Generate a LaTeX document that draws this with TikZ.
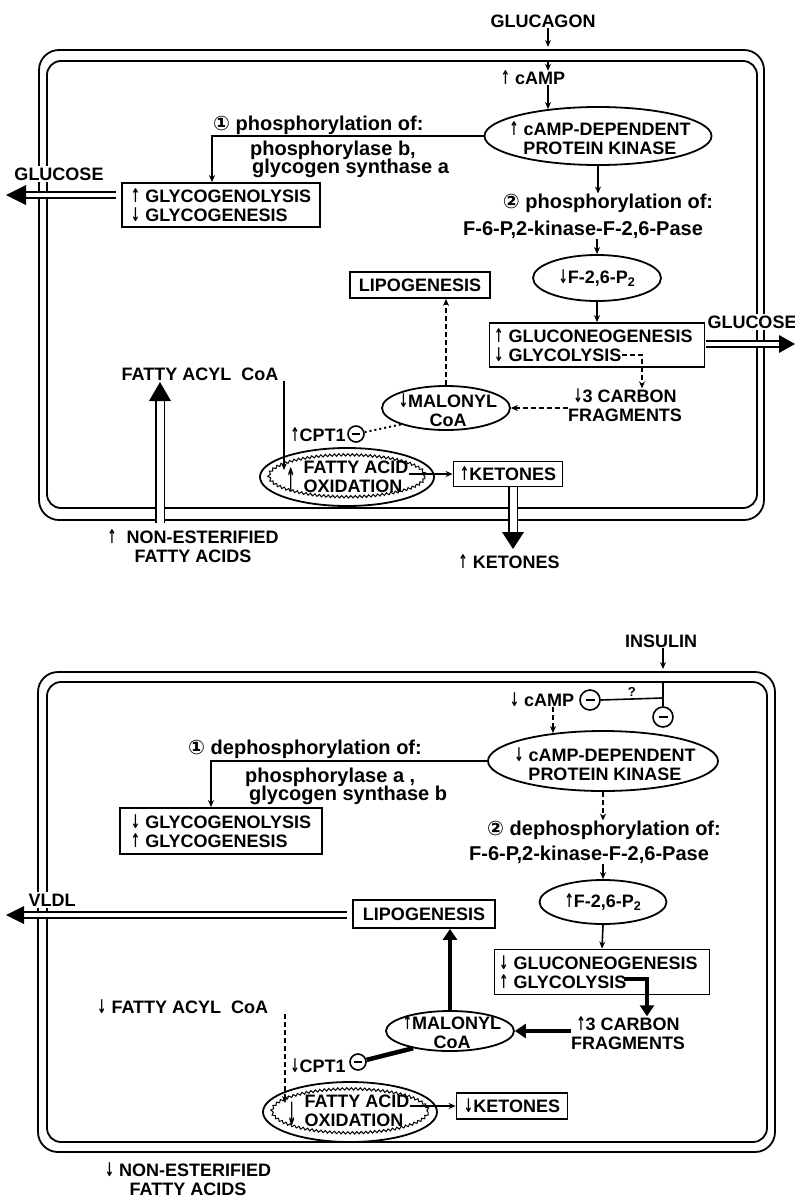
\documentclass[tikz,border=0pt]{standalone}
\usepackage{fontspec}
\setmainfont{Liberation Sans}
\newfontfamily\dvf{DejaVu Sans}
\usetikzlibrary{arrows.meta,shapes.geometric,decorations.pathmorphing,calc}
\newcommand\upa{{\dvf\bfseries\scalebox{0.62}[1.05]{↑}}}
\newcommand\dna{{\dvf\bfseries\scalebox{0.62}[1.05]{↓}}}
\newcommand\cone{{\dvf ①}}
\newcommand\ctwo{{\dvf ②}}
\newcommand\dblarr[5]{%
  \draw[#1, shorten >=#4-1pt] (#2) -- (#3);
  \coordinate (hb) at ($(#3)!#4!(#2)$);
  \fill (#3) -- ($(hb)!#5/2!90:(#3)$) -- ($(hb)!#5/2!-90:(#3)$) -- cycle;}
\begin{document}
\begin{tikzpicture}[
 x=1pt, y=-1pt,
 T/.style={inner sep=0pt, font=\bfseries\fontsize{18}{19}\selectfont},
 Tl/.style={inner sep=0pt, font=\bfseries\fontsize{20}{21}\selectfont},
 bx/.style={draw, line width=1.8pt, inner sep=0pt, font=\bfseries\fontsize{18}{18.5}\selectfont, align=left},
 el/.style={ellipse, draw, line width=1.8pt, inner sep=0pt},
 ar/.style={line width=1.6pt, -{Stealth[length=7pt,width=6pt]}},
 dar/.style={ar, dash pattern=on 5pt off 3pt},
 dotl/.style={line width=2pt, dash pattern=on 2pt off 3pt},
 tar/.style={line width=4.5pt, -{Triangle[length=11pt,width=14pt]}},
 mem/.style={line width=1.8pt, rounded corners=20pt},
 dbl/.style={double, double distance=4.5pt, line width=1.5pt},
 dblw/.style={double, double distance=7pt, line width=1.8pt},
 inh/.style={circle, draw, line width=1.6pt, minimum size=16pt, inner sep=0pt},
 wv/.style={decorate, decoration={snake, amplitude=1.2pt, segment length=4.5pt}, line width=1pt}
]
\fill[white] (0,0) rectangle (795,1202);
\useasboundingbox (0,0) rectangle (795,1202);

% ================= TOP PANEL =================
\draw[mem] (39,50) rectangle (764,520);
\draw[mem, rounded corners=14pt] (47,61) rectangle (757,508);

\node[T] (glucagon) at (543,21) {GLUCAGON};
\coordinate (memTop1) at (548,47);
\draw[ar] (glucagon.south -| memTop1) -- (memTop1);
\coordinate (memIn1) at (548,62);
\node[T] (camp1) at (533,78) {\upa\ cAMP};
\draw[ar] (memIn1) -- (camp1.north -| memIn1);

\node[el, minimum width=227pt, minimum height=58pt] (kin1) at (598,136) {};
\node[T, align=center] (kin1t) at (600,138) {\upa\ cAMP-DEPENDENT\\PROTEIN KINASE};
\draw[ar] (camp1.south -| memIn1) -- ($(kin1.north -| memIn1)+(0,3)$);

\node[Tl, anchor=west] (ph1) at (213,125) {\cone\ phosphorylation of:};
\node[Tl, anchor=west] (ph1b) at (250,150) {phosphorylase b,};
\node[Tl, anchor=west] (ph1c) at (252,168) {glycogen synthase a};
\node[bx, minimum width=198pt, minimum height=44pt] (gly1) at (221,205) {\upa\ GLYCOGENOLYSIS\\\dna\ GLYCOGENESIS};
\coordinate (k1turn) at (212,136);
\draw[ar] (kin1.west) -- (k1turn) -- (k1turn |- gly1.north);

\node[T, fill=white, inner sep=2pt] (glucL) at (59,174) {GLUCOSE};
\coordinate (glucLs) at ($(gly1.west)+(-5,-10)$);
\coordinate (glucLt) at (6,195);
\dblarr{dbl}{glucLs}{glucLt}{20pt}{20pt}

\node[Tl] (phos2) at (608,203) {\ctwo\ phosphorylation of:};
\draw[ar] (kin1.south) -- (kin1.south |- phos2.north);
\node[Tl] (f6p1) at (583,230) {F-6-P,2-kinase-F-2,6-Pase};
\node[el, minimum width=128pt, minimum height=46pt] (f26a) at (597,278) {};
\node[T] (f26at) at (597,278) {\dna F-2,6-P\textsubscript{2}};
\draw[ar] (f6p1.south -| f26a.north) -- (f26a.north);
\node[bx, minimum width=215pt, minimum height=44pt] (gng1) at (597,345) {};
\node[T, anchor=west] (gng1a) at (494,336) {\upa\ GLUCONEOGENESIS};
\node[T, anchor=west] (gng1b) at (494,355) {\dna\ GLYCOLYSIS};
\draw[ar] (f26a.south) -- (gng1.north);

\node[T, fill=white, inner sep=2pt] (glucR) at (752,322) {GLUCOSE};
\coordinate (glucRs) at ($(gng1.east)+(1,-1)$);
\coordinate (glucRt) at (795,344);
\dblarr{dbl}{glucRs}{glucRt}{16pt}{18pt}

\node[bx, minimum width=140pt, minimum height=26pt] (lipo1) at (420,285) {LIPOGENESIS};
\node[el, minimum width=128pt, minimum height=44pt] (mal1) at (446,408) {};
\node[T, align=center] (mal1t) at (448,410) {\dna MALONYL\\CoA};
\draw[dar] (mal1.north) -- (mal1.north |- lipo1.south);
\node[T, align=center] (carb1) at (625,405) {\dna 3 CARBON\\FRAGMENTS};
\draw[dar] (carb1.west |- mal1.east) -- (mal1.east);
\draw[dar] ($(gng1b.east)+(1,0)$) -| ($(carb1.north)+(17,0)$);

\node[T] (cpt1) at (318,435) {\upa CPT1};
\node[inh] (inh1) at (356,434) {\rule{8pt}{1.8pt}};
\draw[dotl] (inh1) -- (mal1.200);

\node[el, minimum width=174pt, minimum height=58pt] (fao1) at (347,477) {};
\draw[wv] (fao1.center) ellipse [x radius=78pt, y radius=21pt];
\node[T, align=left] (fao1t) at (356,477) {FATTY ACID\\OXIDATION};
\node[T] (fao1a) at (291,480) {\scalebox{1}[1.7]{\upa}};
\node[T] (fac1) at (200,374) {FATTY ACYL\ \ CoA};
\coordinate (fac1d) at (284,470);
\draw[ar] (fac1.south east -| fac1d) -- (fac1d);

\node[bx, minimum width=109pt, minimum height=25pt] (ket1) at (508,474) {\upa KETONES};
\draw[ar] (ket1.west -| fao1t.east) -- (ket1.west);
\coordinate (ket1s) at ($(ket1.south)+(5,0)$);
\coordinate (ket1t) at (513,549);
\dblarr{dblw}{ket1s}{ket1t}{17pt}{22pt}
\node[T] (ket1o) at (509,562) {\upa\ KETONES};
\node[T, align=center] (nefa1) at (193,546) {\upa\ \ NON-ESTERIFIED\\FATTY ACIDS};
\coordinate (nefa1s) at (160,523);
\coordinate (nefa1t) at (160,382);
\dblarr{dblw}{nefa1s}{nefa1t}{19pt}{22pt}

% ================= BOTTOM PANEL =================
\draw[mem] (38,672) rectangle (775,1152);
\draw[mem, rounded corners=14pt] (47,682) rectangle (767,1142);

\node[T] (ins) at (661,641) {INSULIN};
\coordinate (insT) at (663,669);
\draw[ar] (ins.south -| insT) -- (insT);
\coordinate (insIn) at (663,682);
\coordinate (jn) at (663,698);
\node[inh, minimum size=20pt] (inhA) at (663,717) {\rule{9pt}{2pt}};
\draw[line width=1.6pt] (insIn) -- (inhA.north);
\node[T] (camp2) at (542,700) {\dna\ cAMP};
\node[inh, minimum size=20pt] (inhB) at (590,700) {\rule{9pt}{2pt}};
\draw[line width=1.6pt] (inhB.east) -- (jn) node[midway, above, inner sep=2pt, font=\bfseries\fontsize{13}{13}\selectfont] (qm) {?};

\node[el, minimum width=230pt, minimum height=60pt] (kin2) at (603,761) {};
\node[T, align=center] (kin2t) at (605,764) {\dna\ cAMP-DEPENDENT\\PROTEIN KINASE};
\draw[dar] ($(camp2.south)+(11,0)$) -- ($(kin2.north)+(-50,3)$);

\node[Tl, anchor=west] (dph1) at (188,749) {\cone\ dephosphorylation of:};
\node[Tl, anchor=west] (dph1b) at (245,777) {phosphorylase a ,};
\node[Tl, anchor=west] (dph1c) at (249,795) {glycogen synthase b};
\node[bx, minimum width=202pt, minimum height=46pt] (gly2) at (221,831) {\dna\ GLYCOGENOLYSIS\\\upa\ GLYCOGENESIS};
\coordinate (k2turn) at (211,761);
\draw[ar] (kin2.west) -- (k2turn) -- (k2turn |- gly2.north);

\node[Tl] (dph2) at (604,830) {\ctwo\ dephosphorylation of:};
\draw[dar] (kin2.south) -- (kin2.south |- dph2.north);
\node[Tl] (f6p2) at (589,855) {F-6-P,2-kinase-F-2,6-Pase};
\node[el, minimum width=127pt, minimum height=44pt] (f26b) at (603,902) {};
\node[T] (f26bt) at (603,902) {\upa F-2,6-P\textsubscript{2}};
\draw[ar] (f6p2.south -| f26b.north) -- (f26b.north);
\node[bx, minimum width=215pt, minimum height=45pt] (gng2) at (602,972) {};
\node[T, anchor=west] (gng2a) at (499,963) {\dna\ GLUCONEOGENESIS};
\node[T, anchor=west] (gng2b) at (499,982) {\upa\ GLYCOLYSIS};
\draw[ar] (f26b.south) -- (gng2.north);

\node[bx, minimum width=142pt, minimum height=28pt] (lipo2) at (424,914) {LIPOGENESIS};
\node[T, fill=white, inner sep=2pt] (vldl) at (52,900) {VLDL};
\coordinate (vldls) at ($(lipo2.west)+(-5,1)$);
\coordinate (vldlt) at (6,915);
\dblarr{dbl}{vldls}{vldlt}{18pt}{18pt}

\node[el, minimum width=128pt, minimum height=40pt] (mal2) at (450,1031) {};
\node[T, align=center] (mal2t) at (452,1032) {\upa MALONYL\\CoA};
\draw[tar] (mal2.north) -- (mal2.north |- lipo2.south);
\node[T, align=center] (carb2) at (628,1033) {\upa 3 CARBON\\FRAGMENTS};
\draw[tar] (carb2.west |- mal2.east) -- (mal2.east);
\draw[tar] ($(gng2b.east)+(-2,-3)$) -| ($(carb2.north)+(19,0)$);

\node[T] (cpt2) at (318,1066) {\dna CPT1};
\node[inh] (inhC) at (358,1062) {\rule{8pt}{1.8pt}};
\draw[line width=4.5pt] (inhC) -- (mal2.205);
\node[T, anchor=west] (fac2) at (97,1007) {\dna\ FATTY ACYL\ \ CoA};
\node[el, minimum width=174pt, minimum height=60pt] (fao2) at (350,1112) {};
\draw[wv] (fao2.center) ellipse [x radius=78pt, y radius=22pt];
\node[T, align=left] (fao2t) at (357,1111) {FATTY ACID\\OXIDATION};
\node[T] (fao2a) at (292,1114) {\scalebox{1}[1.7]{\dna}};
\coordinate (fac2d) at (285,1103);
\draw[dar] (fac2.south east -| fac2d) -- (fac2d);
\node[bx, minimum width=111pt, minimum height=26pt] (ket2) at (512,1106) {\dna KETONES};
\draw[ar] (ket2.west -| fao2t.east) -- (ket2.west);
\node[T, align=center] (nefa2) at (188,1179) {\dna\ NON-ESTERIFIED\\FATTY ACIDS};
\end{tikzpicture}
\end{document}
